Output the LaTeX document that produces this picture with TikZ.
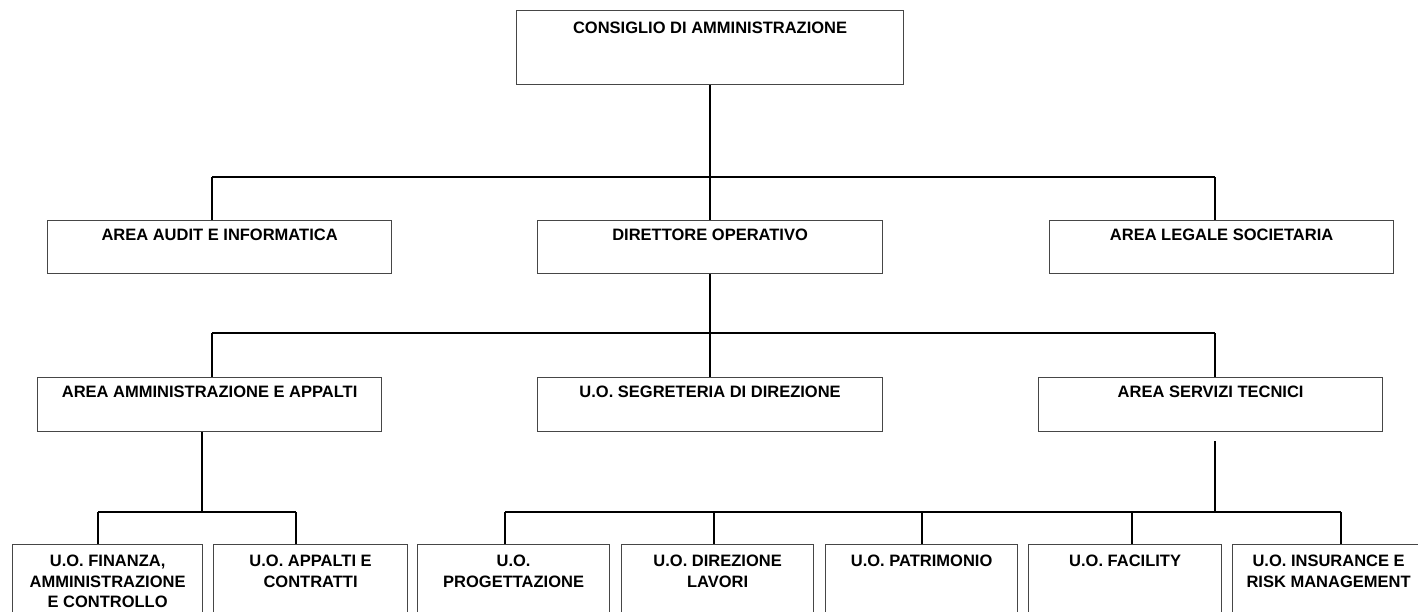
\documentclass[tikz,border=0pt]{standalone}
\usepackage{fontspec}
\setmainfont{Liberation Sans}
\begin{document}
\begin{tikzpicture}[x=1pt,y=-1pt,
  orgbox/.style={draw=boxgray, line width=1.2pt, fill=white, rectangle, inner sep=0pt, anchor=north west},
  lbl/.style={anchor=north, inner sep=0pt, align=center, text=black,
    font=\fontsize{16.5pt}{20.5pt}\selectfont\bfseries},
  conn/.style={draw=black, line width=2.2pt}
]
\definecolor{boxgray}{RGB}{70,70,70}
\useasboundingbox (0,0) rectangle (1418,611);
\clip (0,0) rectangle (1418,611);
\fill[white] (0,0) rectangle (1418,611);

% level 0
\node[orgbox, minimum width=387pt, minimum height=74pt] (cda) at (516,10) {};
% level 1
\node[orgbox, minimum width=344pt, minimum height=53pt] (audit) at (47,220) {};
\node[orgbox, minimum width=345pt, minimum height=53pt] (dir) at (537,220) {};
\node[orgbox, minimum width=344pt, minimum height=53pt] (legale) at (1049,220) {};
% level 2
\node[orgbox, minimum width=344pt, minimum height=54pt] (amm) at (37,377) {};
\node[orgbox, minimum width=345pt, minimum height=54pt] (segr) at (537,377) {};
\node[orgbox, minimum width=344pt, minimum height=54pt] (serv) at (1038,377) {};
% level 3
\node[orgbox, minimum width=190pt, minimum height=90pt] (fin) at (12,544) {};
\node[orgbox, minimum width=194pt, minimum height=90pt] (appc) at (213,544) {};
\node[orgbox, minimum width=192pt, minimum height=90pt] (prog) at (417,544) {};
\node[orgbox, minimum width=192pt, minimum height=90pt] (dlav) at (621,544) {};
\node[orgbox, minimum width=192pt, minimum height=90pt] (patr) at (825,544) {};
\node[orgbox, minimum width=193pt, minimum height=90pt] (fac) at (1028,544) {};
\node[orgbox, minimum width=192pt, minimum height=90pt] (ins) at (1232,544) {};

% labels
\node[lbl] (tcda) at ([yshift=-12pt]cda.north) {CONSIGLIO DI AMMINISTRAZIONE};
\node[lbl] (taudit) at ([yshift=-9pt]audit.north) {AREA AUDIT E INFORMATICA};
\node[lbl] (tdir) at ([yshift=-9pt]dir.north) {DIRETTORE OPERATIVO};
\node[lbl] (tlegale) at ([yshift=-9pt]legale.north) {AREA LEGALE SOCIETARIA};
\node[lbl] (tamm) at ([yshift=-9pt]amm.north) {AREA AMMINISTRAZIONE E APPALTI};
\node[lbl] (tsegr) at ([yshift=-9pt]segr.north) {U.O. SEGRETERIA DI DIREZIONE};
\node[lbl] (tserv) at ([yshift=-9pt]serv.north) {AREA SERVIZI TECNICI};
\node[lbl] (tfin) at ([yshift=-11pt]fin.north) {U.O. FINANZA,\\AMMINISTRAZIONE\\E CONTROLLO};
\node[lbl] (tappc) at ([yshift=-11pt]appc.north) {U.O. APPALTI E\\CONTRATTI};
\node[lbl] (tprog) at ([yshift=-11pt]prog.north) {U.O.\\PROGETTAZIONE};
\node[lbl] (tdlav) at ([yshift=-11pt]dlav.north) {U.O. DIREZIONE\\LAVORI};
\node[lbl] (tpatr) at ([yshift=-11pt]patr.north) {U.O. PATRIMONIO};
\node[lbl] (tfac) at ([yshift=-11pt]fac.north) {U.O. FACILITY};
\node[lbl] (tins) at ([yshift=-11pt]ins.north) {U.O. INSURANCE E\\RISK MANAGEMENT};

% junction coordinates
\coordinate (b1l) at (212,177);
\coordinate (b1r) at (1215,177);
\coordinate (b2l) at (212,333);
\coordinate (b2r) at (1215,333);
\coordinate (b3a) at (202,512);
\coordinate (b3l) at (98,512);
\coordinate (b3r) at (296,512);
\coordinate (b4) at (1215,512);
\coordinate (d1) at (505,512);
\coordinate (d2) at (714,512);
\coordinate (d3) at (922,512);
\coordinate (d4) at (1132,512);
\coordinate (d5) at (1341,512);

% level 0 -> 1
\draw[conn] (cda.south) -- (cda.south |- b1l);
\draw[conn] (b1l) -- (b1r);
\draw[conn] (b1l) -- (b1l |- audit.north);
\draw[conn] (cda.south |- b1l) -- (dir.north);
\draw[conn] (b1r) -- (b1r |- legale.north);
% level 1 -> 2
\draw[conn] (dir.south) -- (dir.south |- b2l);
\draw[conn] (b2l) -- (b2r);
\draw[conn] (b2l) -- (b2l |- amm.north);
\draw[conn] (dir.south |- b2l) -- (segr.north);
\draw[conn] (b2r) -- (b2r |- serv.north);
% level 2 -> 3 left
\draw[conn] (b3a |- amm.south) -- (b3a);
\draw[conn] (b3l) -- (b3r);
\draw[conn] (b3l) -- (b3l |- fin.north);
\draw[conn] (b3r) -- (b3r |- appc.north);
% level 2 -> 3 right
\draw[conn, shorten <=9pt] (b4 |- serv.south) -- (b4);
\draw[conn] (d1) -- (d5);
\draw[conn] (d1) -- (d1 |- prog.north);
\draw[conn] (d2) -- (d2 |- dlav.north);
\draw[conn] (d3) -- (d3 |- patr.north);
\draw[conn] (d4) -- (d4 |- fac.north);
\draw[conn] (d5) -- (d5 |- ins.north);
\end{tikzpicture}
\end{document}
